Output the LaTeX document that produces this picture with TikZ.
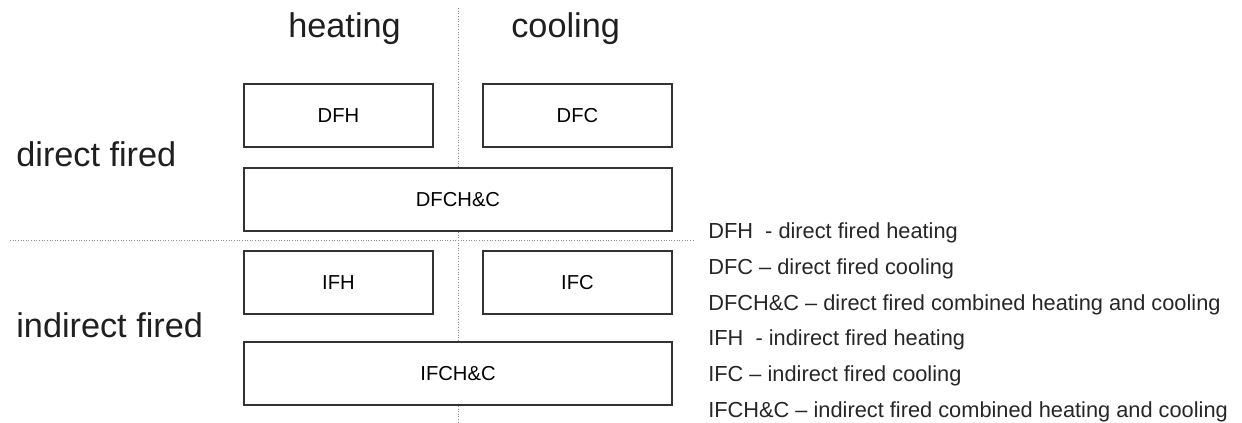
\documentclass[tikz,border=0pt]{standalone}
\usepackage{fontspec}
\setmainfont{Liberation Sans}
\usepackage{tikz}
\definecolor{boxline}{HTML}{333333}
\definecolor{sepline}{HTML}{8C8C8C}
\tikzset{
  firebox/.style={draw=boxline, line width=0.8pt, fill=white, minimum width=3.78cm, minimum height=1.26cm, inner sep=0pt, font=\fontsize{11.5}{13}\selectfont},
  widebox/.style={firebox, minimum width=8.56cm},
  headtxt/.style={anchor=base west, inner sep=0pt, text=black!88, font=\fontsize{19.5}{22}\selectfont},
  keytxt/.style={anchor=base west, inner sep=0pt, text=black!85, font=\fontsize{12.4}{14}\selectfont}
}

\begin{document}
\begin{tikzpicture}[x=0.02cm, y=-0.02cm]
        \useasboundingbox (0,0) rectangle (1242,423);
        % separating lines
        \draw[sepline, densely dotted, line width=0.5pt] (458,8) -- (458,423);
        \draw[sepline, densely dotted, line width=0.5pt] (10,240) -- (695,240);
        % column and row headings
        \node[headtxt] (heat) at (288,37) {heating};
        \node[headtxt] (cool) at (511,37) {cooling};
        \node[headtxt] (direct) at (16,166) {direct fired};
        \node[headtxt] (indirect) at (16,337) {indirect fired};
        % boxes
        \node[firebox] (dfh) at (338.5,115.5) {DFH};
        \node[firebox] (dfc) at (577.5,115.5) {DFC};
        \node[widebox] (dfchc) at (458,199.5) {DFCH\&C};
        \node[firebox] (ifh) at (338.5,282.5) {IFH};
        \node[firebox] (ifc) at (577.5,282.5) {IFC};
        \node[widebox] (ifchc) at (458,373.5) {IFCH\&C};
        % key
        \node[keytxt] (k1) at (708,238) {DFH\ \ - direct fired heating};
        \node[keytxt] (k2) at (708,274) {DFC -- direct fired cooling};
        \node[keytxt] (k3) at (708,310) {DFCH\&C -- direct fired combined heating and cooling};
        \node[keytxt] (k4) at (708,345) {IFH\ \ - indirect fired heating};
        \node[keytxt] (k5) at (708,381) {IFC -- indirect fired cooling};
        \node[keytxt] (k6) at (708,417) {IFCH\&C -- indirect fired combined heating and cooling};
    \end{tikzpicture}
\end{document}
